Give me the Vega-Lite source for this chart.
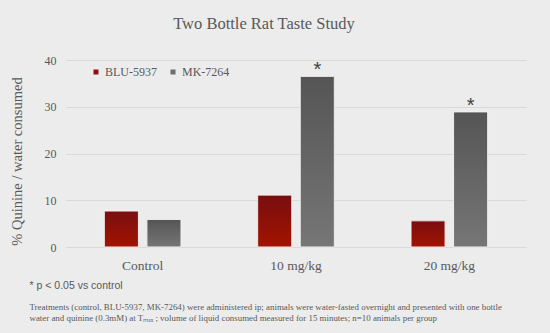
{
  "$schema": "https://vega.github.io/schema/vega-lite/v6.json",
  "width": 460,
  "height": 187,
  "autosize": "none",
  "padding": {"left": 66, "top": 60, "right": 24, "bottom": 86},
  "background": "#ececec",
  "title": {
    "text": "Two Bottle Rat Taste Study",
    "font": "Liberation Serif",
    "fontSize": 16.5,
    "fontWeight": "normal",
    "color": "#595959",
    "anchor": "middle",
    "frame": "group",
    "dx": -32,
    "offset": 22
  },
  "data": {
    "values": [
      {"dose": "Control", "drug": "BLU-5937", "value": 7.7, "sig": ""},
      {"dose": "Control", "drug": "MK-7264", "value": 5.9, "sig": ""},
      {"dose": "10 mg/kg", "drug": "BLU-5937", "value": 11.1, "sig": ""},
      {"dose": "10 mg/kg", "drug": "MK-7264", "value": 36.5, "sig": "*"},
      {"dose": "20 mg/kg", "drug": "BLU-5937", "value": 5.6, "sig": ""},
      {"dose": "20 mg/kg", "drug": "MK-7264", "value": 28.9, "sig": "*"}
    ]
  },
  "encoding": {
    "x": {
      "field": "dose",
      "type": "nominal",
      "sort": ["Control", "10 mg/kg", "20 mg/kg"],
      "scale": {"paddingInner": 0.5, "paddingOuter": 0.25}
    },
    "xOffset": {
      "field": "drug",
      "type": "nominal",
      "sort": ["BLU-5937", "MK-7264"],
      "scale": {"paddingInner": 0.2, "paddingOuter": 0}
    },
    "y": {
      "field": "value",
      "type": "quantitative",
      "scale": {"domain": [0, 40], "nice": false},
      "axis": {
        "values": [0, 10, 20, 30, 40],
        "title": "% Quinine / water consumed",
        "ticks": false,
        "domain": false,
        "grid": true,
        "gridColor": "#d9d9d9",
        "labelFont": "Liberation Serif",
        "labelFontSize": 12,
        "labelColor": "#595959",
        "labelPadding": 10,
        "titleFont": "Liberation Serif",
        "titleFontSize": 14.5,
        "titleFontWeight": "normal",
        "titleColor": "#595959",
        "titleX": -49,
        "titleY": 101,
        "titleAlign": "center",
        "titleBaseline": "middle",
        "titleAngle": -90
      }
    }
  },
  "layer": [
    {
      "mark": {"type": "bar"},
      "encoding": {
        "color": {
          "field": "drug",
          "type": "nominal",
          "scale": {
            "domain": ["BLU-5937", "MK-7264"],
            "range": ["#931010", "#6e6e6e"]
          },
          "legend": {
            "orient": "none",
            "legendX": 24,
            "legendY": 6,
            "direction": "horizontal",
            "title": null,
            "symbolType": "square",
            "symbolSize": 25,
            "symbolStrokeWidth": 0,
            "labelFont": "Liberation Serif",
            "labelFontSize": 12,
            "labelColor": "#595959",
            "labelOffset": 3,
            "columnPadding": 10
          }
        },
        "x": {
          "field": "dose",
          "type": "nominal",
          "sort": ["Control", "10 mg/kg", "20 mg/kg"],
          "axis": {
            "orient": "bottom",
            "ticks": false,
            "domain": false,
            "grid": false,
            "labelAngle": 0,
            "labelFont": "Liberation Serif",
            "labelFontSize": 13.5,
            "labelColor": "#595959",
            "labelPadding": 11,
            "title": "* p < 0.05 vs control",
            "titleFont": "Liberation Sans",
            "titleFontSize": 10.5,
            "titleFontWeight": "normal",
            "titleColor": "#595959",
            "titleX": -37,
            "titleY": 41,
            "titleAlign": "left",
            "titleBaseline": "alphabetic"
          }
        }
      }
    },
    {
      "mark": {"type": "bar", "stroke": "#f2f2f2", "strokeWidth": 1},
      "encoding": {
        "x": {
          "field": "dose",
          "type": "nominal",
          "sort": ["Control", "10 mg/kg", "20 mg/kg"],
          "axis": null
        },
        "fill": {
          "condition": {
            "test": "datum.drug === 'BLU-5937'",
            "value": {"gradient": "linear", "x1": 0, "y1": 0, "x2": 0, "y2": 1,
              "stops": [{"offset": 0, "color": "#780e10"}, {"offset": 1, "color": "#a31300"}]}
          },
          "value": {"gradient": "linear", "x1": 0, "y1": 0, "x2": 0, "y2": 1,
            "stops": [{"offset": 0, "color": "#555555"}, {"offset": 1, "color": "#767676"}]}
        }
      }
    },
    {
      "mark": {"type": "text", "font": "Liberation Sans", "fontSize": 20, "color": "#404040", "baseline": "alphabetic", "dy": 0},
      "encoding": {
        "text": {"field": "sig"},
        "x": {
          "field": "dose",
          "type": "nominal",
          "sort": ["Control", "10 mg/kg", "20 mg/kg"],
          "axis": {
            "orient": "bottom",
            "labels": false,
            "ticks": false,
            "domain": false,
            "grid": false,
            "title": [
              "Treatments (control, BLU-5937, MK-7264) were administered ip; animals were water-fasted overnight and presented with one bottle",
              "water and quinine (0.3mM) at Tₘₐₓ ; volume of liquid consumed measured for 15 minutes;  n=10 animals per group"
            ],
            "titleFont": "Liberation Serif",
            "titleFontSize": 8.9,
            "titleFontWeight": "normal",
            "titleLineHeight": 11.5,
            "titleColor": "#595959",
            "titleX": -37,
            "titleY": 62,
            "titleAlign": "left",
            "titleBaseline": "alphabetic"
          }
        }
      }
    }
  ],
  "resolve": {"axis": {"x": "independent"}},
  "config": {"view": {"stroke": null}}
}
